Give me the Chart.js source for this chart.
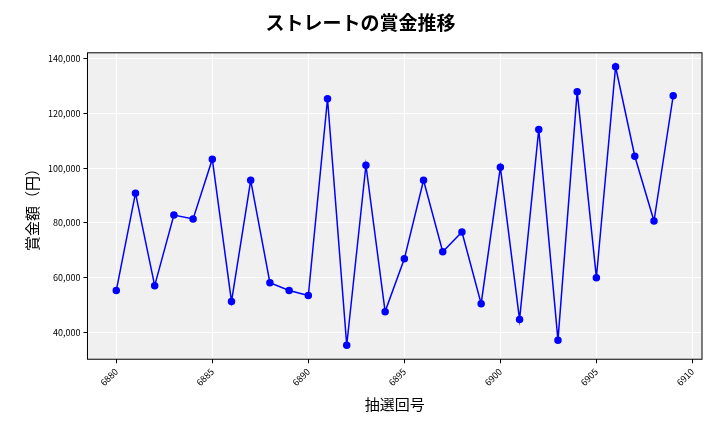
<!DOCTYPE html>
<html lang="ja">
<head>
<meta charset="UTF-8">
<script src="https://cdn.jsdelivr.net/npm/chart.js"></script>
<style>
  body { margin: 0; background: #fff; }
  #wrap { width: 720px; height: 432px; }
</style>
</head>
<body>
<div id="wrap"><canvas id="c" width="720" height="432"></canvas></div>
<script>
const draws = [6880,6881,6882,6883,6884,6885,6886,6887,6888,6889,6890,6891,6892,6893,6894,6895,6896,6897,6898,6899,6900,6901,6902,6903,6904,6905,6906,6907,6908,6909];
const prizes = [55300,90900,57100,82900,81500,103300,51300,95600,58200,55300,53500,125400,35300,101100,47600,66900,95600,69500,76700,50500,100400,44700,114200,37100,128000,60000,137100,104400,80700,126500];

const FONT = '"Noto Sans CJK JP", "DejaVu Sans", sans-serif';

const plotBg = {
  id: 'plotBg',
  beforeDraw(chart) {
    const { ctx, chartArea: a } = chart;
    ctx.save();
    ctx.fillStyle = '#f0f0f0';
    ctx.fillRect(a.left, a.top, a.right - a.left, a.bottom - a.top);
    ctx.restore();
  },
  afterDraw(chart) {
    const { ctx, chartArea: a } = chart;
    ctx.save();
    ctx.strokeStyle = '#000';
    ctx.lineWidth = 1;
    ctx.strokeRect(a.left, a.top, a.right - a.left, a.bottom - a.top);
    ctx.restore();
  }
};

new Chart(document.getElementById('c'), {
  type: 'line',
  data: {
    datasets: [{
      data: draws.map((d, i) => ({ x: d, y: prizes[i] })),
      borderColor: '#0000ff',
      backgroundColor: '#0000ff',
      borderWidth: 1.5,
      pointRadius: 3,
      tension: 0
    }]
  },
  options: {
    responsive: false,
    animation: false,
    layout: { padding: { left: 19, right: 18, top: 5, bottom: 15 } },
    plugins: {
      legend: { display: false },
      tooltip: { enabled: false },
      title: {
        display: true,
        text: 'ストレートの賞金推移',
        font: { family: FONT, size: 19, weight: 'bold' },
        color: '#000',
        padding: { top: 6, bottom: 19 }
      }
    },
    scales: {
      x: {
        type: 'linear',
        min: 6878.5,
        max: 6910.5,
        afterBuildTicks(scale) {
          scale.ticks = [6880, 6885, 6890, 6895, 6900, 6905, 6910].map(v => ({ value: v }));
        },
        ticks: {
          callback: v => String(v),
          maxRotation: 45, minRotation: 45,
          font: { family: FONT, size: 9 }, color: '#000'
        },
        grid: { color: '#ffffff', lineWidth: 1, drawTicks: true, tickColor: '#000', tickLength: 4 },
        border: { display: false },
        title: { display: true, text: '抽選回号', font: { family: FONT, size: 15 }, color: '#000' }
      },
      y: {
        min: 30200,
        max: 142200,
        afterBuildTicks(scale) {
          scale.ticks = [40000, 60000, 80000, 100000, 120000, 140000].map(v => ({ value: v }));
        },
        ticks: {
          callback: v => v.toLocaleString('en-US'),
          font: { family: FONT, size: 9 }, color: '#000'
        },
        grid: { color: '#ffffff', lineWidth: 1, tickColor: '#000', tickLength: 4 },
        border: { display: false },
        title: { display: true, text: '賞金額（円）', font: { family: FONT, size: 15 }, color: '#000' }
      }
    }
  },
  plugins: [plotBg]
});
</script>
</body>
</html>
